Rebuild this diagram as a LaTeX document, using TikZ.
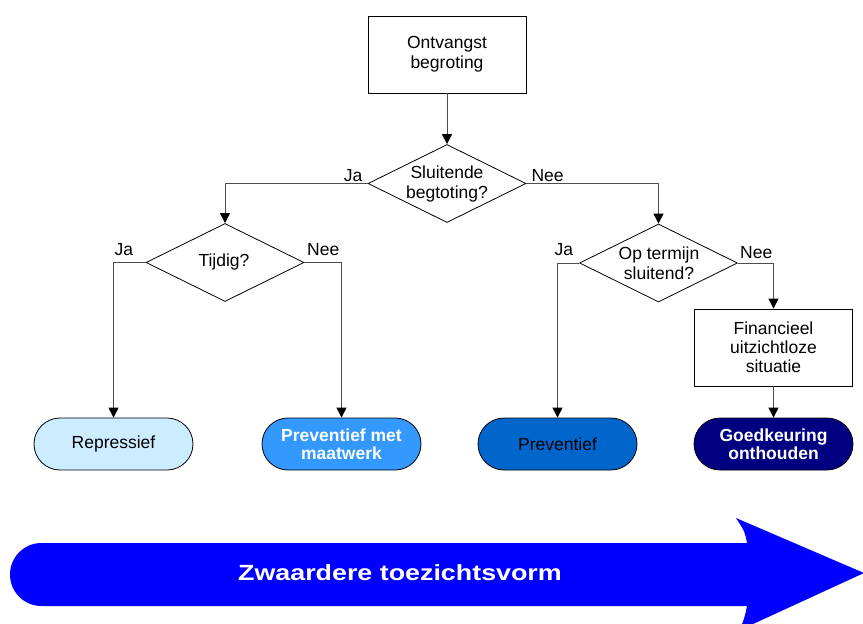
\documentclass[tikz,border=0pt]{standalone}
\usepackage{fontspec}
\setmainfont{Liberation Sans}
\usetikzlibrary{shapes.geometric,shapes.misc,arrows.meta}

\definecolor{linegray}{HTML}{4D4D4D}
\definecolor{termlight}{HTML}{CCECFF}
\definecolor{termmid}{HTML}{3399FF}
\definecolor{termdeep}{HTML}{0066CC}
\definecolor{termnavy}{HTML}{000080}
\definecolor{bandblue}{HTML}{0000FF}

\tikzset{
  txt/.style={font=\fontsize{17.5}{20}\selectfont, align=center},
  procbox/.style={txt, draw=black, line width=0.8pt, fill=white,
    minimum width=158pt, minimum height=77pt, inner sep=0pt},
  decision/.style={diamond, draw=black, line width=0.8pt, fill=white,
    minimum width=158pt, minimum height=78pt, inner sep=0pt},
  term/.style={rounded rectangle, draw=black, line width=0.8pt,
    minimum width=159pt, minimum height=52pt, inner sep=0pt,
    align=center, font=\fontsize{17.5}{18}\selectfont},
  termbold/.style={term, font=\fontsize{17.5}{18}\selectfont\bfseries, text=white},
  flow/.style={draw=linegray, line width=1pt,
    -{Triangle[width=10pt,length=10pt,color=black]}},
  branch/.style={txt, inner sep=0pt},
}

\begin{document}
\begin{tikzpicture}[x=1pt,y=-1pt]
  \useasboundingbox (0,0) rectangle (863,624);

  % process boxes
  \node[procbox] (start) at (447,54.5) {Ontvangst\\begroting};
  \node[procbox, font=\fontsize{17.5}{19}\selectfont] (hopeless) at (773.5,347.5)
    {Financieel\\uitzichtloze\\situatie};

  % decisions
  \node[decision] (d1) at (447,183.5) {};
  \node[txt, inner sep=0pt] (d1text) at (447,184) {Sluitende\\begtoting?};
  \node[decision] (d2) at (225,262.5) {};
  \node[txt, inner sep=0pt] (d2text) at (224,262) {Tijdig?};
  \node[decision] (d3) at (658.5,263) {};
  \node[txt, inner sep=0pt] (d3text) at (659,263) {Op termijn\\sluitend?};

  % outcomes
  \node[term, fill=termlight] (t1) at (113.5,444) {Repressief};
  \node[termbold, fill=termmid] (t2) at (341.5,444) {Preventief met\\maatwerk};
  \node[term, fill=termdeep] (t3) at (557.5,444) {Preventief};
  \node[termbold, fill=termnavy] (t4) at (773.5,444) {Goedkeuring\\onthouden};

  % connectors
  \draw[flow] (start.south) -- (d1.north);
  \draw[flow] (d1.west) -| (d2.north);
  \draw[flow] (d1.east) -| (d3.north);
  \draw[flow] (d2.west) -| (t1.north);
  \draw[flow] (d2.east) -| (t2.north);
  \draw[flow] (d3.west) -| (t3.north);
  \draw[flow] (d3.east) -| (hopeless.north);
  \draw[flow] (hopeless.south) -- (t4.north);

  % corner points of the branches
  \coordinate (c2l) at (d2.west -| t1.north);
  \coordinate (c2r) at (d2.east -| t2.north);
  \coordinate (c3l) at (d3.west -| t3.north);
  \coordinate (c3r) at (d3.east -| hopeless.north);

  % branch labels
  \node[branch, anchor=base east] (ja1) at ([shift={(-5,-2)}]d1.west) {Ja};
  \node[branch, anchor=base west] (nee1) at ([shift={(5,-2)}]d1.east) {Nee};
  \node[branch, anchor=base west] (ja2) at ([shift={(1,-7)}]c2l) {Ja};
  \node[branch, anchor=base east] (nee2) at ([shift={(-2,-7)}]c2r) {Nee};
  \node[branch, anchor=base west] (ja3) at ([shift={(-3,-8)}]c3l) {Ja};
  \node[branch, anchor=base east] (nee3) at ([shift={(-1,-5)}]c3r) {Nee};

  % scale arrow along the bottom
  \begin{scope}
    \clip (0,0) rectangle (863,624);
    \fill[bandblue] (41.5,543) -- (747,543)
      .. controls (745,532) .. (736,518) -- (864,573) -- (740,630)
      .. controls (745,616) .. (747,606) -- (41.5,606)
      arc[start angle=90, end angle=270, radius=31.5] -- cycle;
  \end{scope}
  \node[text=white, font=\fontsize{22}{26}\selectfont\bfseries, inner sep=0pt]
    (scale) at (400,573) {\scalebox{1.22}[1]{Zwaardere toezichtsvorm}};
\end{tikzpicture}
\end{document}
